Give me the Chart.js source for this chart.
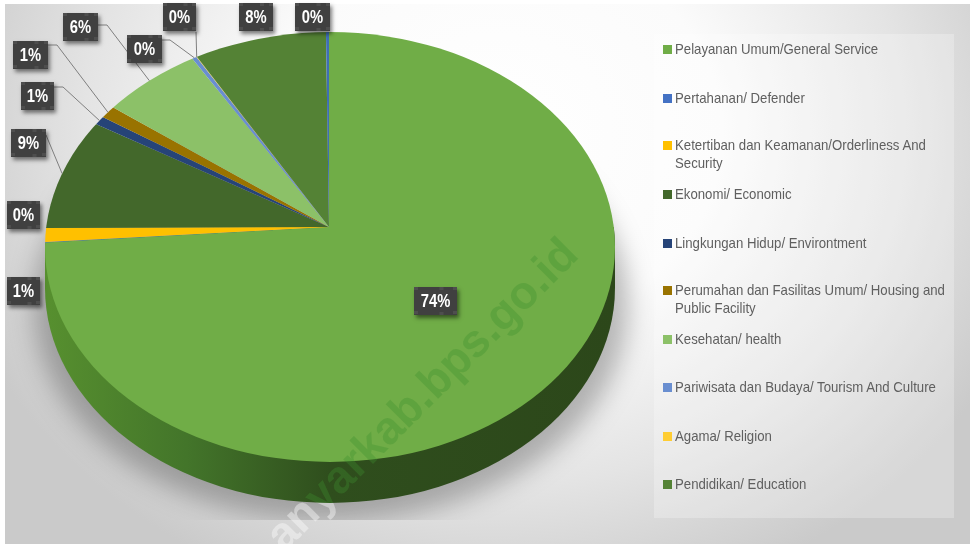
<!DOCTYPE html>
<html><head><meta charset="utf-8">
<style>
html,body{margin:0;padding:0;background:#fff}
#wrap{position:relative;width:970px;height:544px;overflow:hidden;background:#fff}
#bg{position:absolute;left:5px;top:4px;width:965px;height:540px;
 background:radial-gradient(ellipse 570px 490px at 490px 130px,#ffffff 0%,#fbfbfb 40%,#e4e4e4 72%,#cacaca 100%)}
#panel{position:absolute;left:654px;top:34px;width:300px;height:484px;background:rgba(255,255,255,.25)}
canvas{position:absolute;left:0;top:0}
.li{position:absolute;left:675px;width:305px;font:14.5px/18px "Liberation Sans",Arial,sans-serif;color:#5f5f5f;transform:scaleX(.91);transform-origin:0 0}
.sw{position:absolute;left:663px;width:9px;height:9px}
</style></head><body>
<div id="wrap"><div id="bg"></div><div id="panel"></div>
<canvas id="c" width="970" height="544"></canvas>
<div id="legend"></div>
</div>
<script src="https://cdn.jsdelivr.net/npm/chart.js@4/dist/chart.umd.min.js"></script>
<script>
const categories=["Pelayanan Umum/General Service","Pertahanan/ Defender","Ketertiban dan Keamanan/Orderliness And Security","Ekonomi/ Economic","Lingkungan Hidup/ Environtment","Perumahan dan Fasilitas Umum/ Housing and Public Facility","Kesehatan/ health","Pariwisata dan Budaya/ Tourism And Culture","Agama/ Religion","Pendidikan/ Education",""];
const values=[73.95,0.03,0.95,9.2,0.7,1.0,6.1,0.27,0.03,7.6,0.17];
const colors=["#70AD47","#4472C4","#FFC000","#43682B","#264478","#997300","#8CC168","#698ED0","#FFCD33","#548235","#3F6FB5"];
const percentLabels=["74%","0%","1%","9%","1%","1%","6%","0%","0%","8%","0%"];
const watermark="anyarkab.bps.go.id";
// callout layout: label box position per slice, and elbow of its leader line
const boxW=[43,33,33,35,33,35,35,35,33,34,35];
const boxXY=[[414,287],[7,201],[7,277],[11,129],[21,82],[13,41],[63,13],[127,35],[163,3],[239,3],[295,3]];
const elbows=[null,null,null,[46,135],[63,87],[57,45],[107,25],[170,40],[196,32],null,null];
const elbowFrom=[null,null,null,[46,135],[54,87],[48,45],[98,25],[162,40],[196,32],null,null];

const px=329,py=227,slopeTop=195/285,slopeBot=235/285,over=1.2;   // perspective apex and wedge slopes
const ex=330,ey=247,erx=285,ery=215,depth=41;                     // rim ellipse

function place(ctx,a,slope){
  const k=erx*over/a.outerRadius;
  ctx.translate(px,py);ctx.scale(k,k*slope);ctx.translate(-a.x,-a.y);
}
function clipY(ctx,y0,y1){ctx.beginPath();ctx.rect(0,y0,970,y1-y0);ctx.clip();}
function rimPath(ctx){ctx.beginPath();ctx.ellipse(ex,ey,erx,ery,0,0,Math.PI*2);}
function bodyPath(ctx){
  ctx.beginPath();ctx.ellipse(ex,ey+depth,erx,ery,0,0,Math.PI);
  ctx.lineTo(ex-erx,ey);ctx.ellipse(ex,ey,erx,ery,0,Math.PI,Math.PI*2);ctx.closePath();
}
function mark(ctx,fill){
  ctx.save();ctx.translate(284,553);ctx.rotate(-Math.PI/4);
  ctx.font='bold 46px "Liberation Sans",Arial,sans-serif';ctx.fillStyle=fill;ctx.textAlign='left';ctx.textBaseline='alphabetic';
  ctx.fillText(watermark,0,0);ctx.restore();
}
function rimPoint(m){
  const s=Math.sin(m),c=Math.cos(m),dx=c,dy=s*(s<0?slopeTop:slopeBot);
  const ox=(px-ex)/erx,oy=(py-ey)/ery,vx=dx/erx,vy=dy/ery;
  const A=vx*vx+vy*vy,B=2*(ox*vx+oy*vy),C=ox*ox+oy*oy-1;
  const t=(-B+Math.sqrt(B*B-4*A*C))/(2*A);
  return [px+dx*t,py+dy*t];
}
const pie3d={id:'pie3d',
 beforeDatasetsDraw(chart){
  const ctx=chart.ctx,arcs=chart.getDatasetMeta(0).data,a0=arcs[0];
  // soft ground shadow
  ctx.save();clipY(ctx,0,520);ctx.filter='blur(13px)';ctx.fillStyle='rgba(0,0,0,.27)';
  ctx.beginPath();ctx.ellipse(ex+1,ey+58,erx+12,ery+1,0,0,Math.PI*2);ctx.fill();ctx.restore();
  mark(ctx,'rgba(255,255,255,.4)');
  // side wall
  const R=a0.outerRadius/over;
  const g=ctx.createLinearGradient(a0.x-R,0,a0.x+R,0);
  g.addColorStop(0,'#57902F');g.addColorStop(.25,'#43752A');g.addColorStop(.5,'#2F4E1D');g.addColorStop(1,'#2C471A');
  const saved=a0.options;a0.options=Object.assign({},saved,{backgroundColor:g,borderWidth:0});
  ctx.save();bodyPath(ctx);ctx.clip();clipY(ctx,py,544);place(ctx,a0,slopeBot);a0.draw(ctx);ctx.restore();
  a0.options=saved;
  // top face: wedges drawn through the perspective slopes, trimmed by the rim ellipse
  ctx.save();rimPath(ctx);ctx.clip();clipY(ctx,0,py+.5);place(ctx,a0,slopeTop);arcs.forEach(a=>a.draw(ctx));ctx.restore();
  ctx.save();rimPath(ctx);ctx.clip();clipY(ctx,py,544);place(ctx,a0,slopeBot);arcs.forEach(a=>a.draw(ctx));ctx.restore();
  ctx.save();bodyPath(ctx);ctx.clip();mark(ctx,'rgba(63,144,48,.34)');ctx.restore();
  return false;
 },
 afterDraw(chart){
  const ctx=chart.ctx,arcs=chart.getDatasetMeta(0).data;
  ctx.save();ctx.strokeStyle='#7f7f7f';ctx.lineWidth=1;
  arcs.forEach((a,i)=>{
    if(!elbows[i])return;
    const [rxp,ryp]=rimPoint((a.startAngle+a.endAngle)/2);
    ctx.beginPath();ctx.moveTo(elbowFrom[i][0],elbowFrom[i][1]);ctx.lineTo(elbows[i][0],elbows[i][1]);ctx.lineTo(rxp,ryp);ctx.stroke();
  });
  ctx.restore();
  percentLabels.forEach((t,i)=>{
    const [x,y]=boxXY[i],w=boxW[i],h=28;
    ctx.save();ctx.shadowColor='rgba(0,0,0,.5)';ctx.shadowBlur=4;ctx.shadowOffsetX=2;ctx.shadowOffsetY=3;
    ctx.fillStyle='#404040';ctx.fillRect(x,y,w,h);ctx.restore();
    ctx.fillStyle='#4e4e4e';
    [[x,y],[x+w-4,y],[x,y+h-4],[x+w-4,y+h-4],[x+w/2+4,y],[x+w/2+4,y+h-3]].forEach(p=>ctx.fillRect(p[0],p[1],4,3));
    ctx.save();ctx.translate(x+w/2,y+h/2+1);ctx.scale(.82,1);
    ctx.fillStyle='#fff';ctx.font='bold 18px "Liberation Sans",Arial,sans-serif';ctx.textAlign='center';ctx.textBaseline='middle';
    ctx.fillText(t,0,0);ctx.restore();
  });
 }
};
new Chart(document.getElementById('c'),{type:'pie',
 data:{labels:categories,datasets:[{data:values,backgroundColor:colors,borderWidth:0}]},
 options:{responsive:false,animation:false,layout:{padding:0},
  plugins:{legend:{display:false},tooltip:{enabled:false}}},
 plugins:[pie3d]});
// legend
const tops=[41,90,137,186,235,282,331,379,428,476];
const lg=document.getElementById('legend');
categories.slice(0,10).forEach((t,i)=>{
  const s=document.createElement('div');s.className='sw';s.style.top=(tops[i]+4)+'px';s.style.background=colors[i];lg.appendChild(s);
  const d=document.createElement('div');d.className='li';d.style.top=tops[i]-1+'px';d.textContent=t;lg.appendChild(d);
});
</script></body></html>
